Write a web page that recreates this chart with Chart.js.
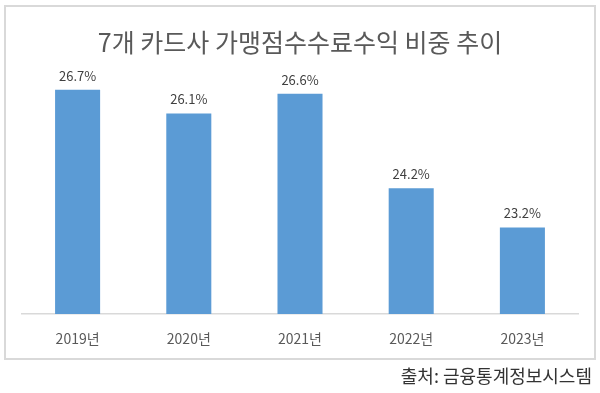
<!DOCTYPE html>
<html><head><meta charset="utf-8">
<script src="https://cdn.jsdelivr.net/npm/chart.js@4"></script>
<style>
html,body{margin:0;padding:0;background:#fff;}
#wrap{position:relative;width:600px;height:393px;}
#c{position:absolute;left:0;top:0;}
#src{position:absolute;right:8px;top:363px;font-family:"Noto Sans CJK KR",sans-serif;font-size:18px;color:#333;line-height:24px;white-space:nowrap;}
</style></head>
<body>
<div id="wrap"><canvas id="c" width="600" height="393"></canvas><div id="src">출처: 금융통계정보시스템</div></div>
<script>
const titleText = '7개 카드사 가맹점수수료수익 비중 추이';
const categories = ['2019년', '2020년', '2021년', '2022년', '2023년'];
const shareValues = [26.7, 26.1, 26.6, 24.2, 23.2];
const FONT = '"Noto Sans CJK KR", "Noto Sans", sans-serif';

const framePlugin = {
  id: 'frame',
  beforeDraw(chart) {
    const ctx = chart.ctx;
    ctx.save();
    ctx.fillStyle = '#fff';
    ctx.fillRect(0, 0, chart.width, chart.height);
    ctx.strokeStyle = '#d9d9d9';
    ctx.lineWidth = 2;
    ctx.strokeRect(5, 6, 590, 353);
    ctx.restore();
  }
};
const labelPlugin = {
  id: 'vlabels',
  afterDatasetsDraw(chart) {
    const ctx = chart.ctx;
    const meta = chart.getDatasetMeta(0);
    ctx.save();
    ctx.font = '13px ' + FONT;
    ctx.fillStyle = '#404040';
    ctx.textAlign = 'center';
    ctx.textBaseline = 'middle';
    meta.data.forEach((bar, i) => {
      ctx.fillText(shareValues[i].toFixed(1) + '%', bar.x, bar.y - 14);
    });
    ctx.restore();
  }
};

new Chart(document.getElementById('c'), {
  type: 'bar',
  data: {
    labels: categories,
    datasets: [{
      data: shareValues,
      backgroundColor: '#5b9bd5',
      borderWidth: 0,
      barPercentage: 0.405,
      categoryPercentage: 1
    }]
  },
  options: {
    responsive: false,
    animation: false,
    devicePixelRatio: 1,
    layout: { padding: { left: 22, right: 22, top: 0, bottom: 0 } },
    plugins: {
      legend: { display: false },
      tooltip: { enabled: false },
      title: {
        display: true,
        text: titleText,
        color: '#595959',
        font: { family: FONT, size: 25, weight: 'normal', lineHeight: 1.2 },
        padding: { top: 27, bottom: 21 }
      }
    },
    scales: {
      y: { display: false, min: 21, max: 27 },
      x: {
        grid: { display: false, drawTicks: false },
        border: { display: true, color: '#d9d9d9', width: 1.5 },
        ticks: { color: '#595959', font: { family: FONT, size: 14 }, padding: 16 },
        afterFit(scale) { scale.height = 79; }
      }
    }
  },
  plugins: [framePlugin, labelPlugin]
});
</script>
</body></html>
